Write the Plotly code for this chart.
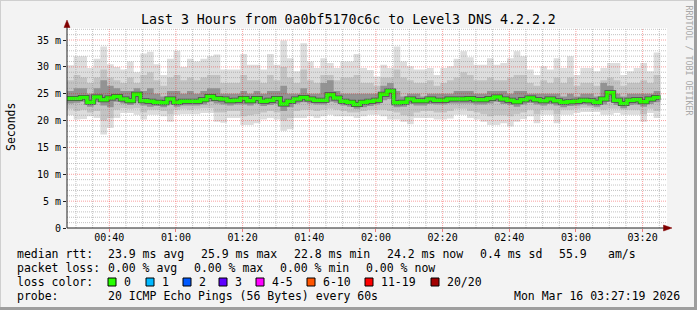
import plotly.graph_objects as go
import pandas as pd

# ---------------- data (milliseconds, one column every 2 minutes) ----------------
TITLE = "Last 3 Hours from 0a0bf5170c6c to Level3 DNS 4.2.2.2"
START = "2026-03-16 00:27:19"
END = "2026-03-16 03:27:19"
STEP_MIN = 2

median = [24.1, 24.1, 24.3, 23.4, 24.4, 23.9, 24.2, 24.5, 24.0, 23.7, 24.9, 23.7, 23.6, 23.4, 23.3, 24.0, 23.4, 23.6, 23.6, 23.6, 23.9, 24.5,
          24.1, 24.0, 23.7, 23.8, 24.1, 23.7, 24.1, 23.6, 23.8, 24.1, 23.1, 23.6, 24.0, 24.3, 24.0, 23.8, 23.8, 24.8, 24.2, 23.6, 23.4, 23.0, 23.4,
          23.6, 23.8, 24.9, 25.5, 23.3, 23.4, 24.0, 23.7, 23.7, 24.0, 23.8, 23.8, 24.0, 24.0, 24.0, 24.1, 23.9, 23.9, 24.1, 24.4, 24.0, 23.8,
          23.5, 23.9, 24.2, 23.9, 23.7, 24.0, 23.7, 23.4, 23.5, 23.6, 23.8, 23.7, 23.4, 24.0, 25.2, 23.8, 23.2, 23.8, 23.9, 23.5, 24.0, 24.3]

hi_outer = [30.3, 32.0, 32.0, 29.8, 31.5, 33.8, 30.5, 30.0, 29.5, 31.0, 29.0, 32.5, 32.8, 30.5, 28.5, 31.5, 33.0, 30.0, 31.5, 31.0, 31.5, 32.0,
            32.3, 29.5, 29.5, 29.5, 32.4, 30.4, 30.4, 29.5, 32.4, 30.4, 34.9, 31.6, 29.2, 34.4, 31.0, 29.8, 31.6, 30.7, 29.8, 31.0, 31.0, 32.4, 29.8,
            29.4, 28.2, 30.4, 29.8, 33.8, 31.0, 30.1, 29.5, 29.5, 29.8, 28.5, 29.8, 30.1, 31.5, 32.9, 31.8, 30.4, 30.4, 31.6, 30.4, 30.7, 31.6,
            32.9, 32.0, 29.5, 28.5, 30.1, 29.5, 31.6, 29.8, 32.0, 28.5, 29.8, 29.8, 29.2, 29.8, 30.7, 30.7, 28.5, 29.2, 29.8, 30.7, 29.2, 32.7]

hi_mid = [27.5, 28.5, 28.0, 27.0, 28.0, 29.5, 28.0, 27.5, 27.0, 28.0, 27.0, 28.5, 29.0, 27.5, 26.5, 28.0, 28.5, 27.5, 28.0, 27.5, 28.0, 28.5,
          28.5, 27.0, 27.0, 27.0, 28.5, 27.5, 27.5, 27.0, 28.5, 27.5, 30.0, 28.0, 27.0, 29.5, 27.5, 27.0, 28.5, 28.5, 27.5, 28.0, 28.0, 28.5, 27.0,
          27.0, 26.5, 28.0, 28.0, 29.5, 28.0, 27.5, 27.0, 27.0, 27.5, 26.5, 27.0, 27.5, 28.0, 29.0, 28.5, 27.5, 27.5, 28.0, 27.5, 27.5, 28.0,
          28.5, 28.5, 27.0, 26.5, 27.5, 27.0, 28.0, 27.0, 28.0, 26.5, 27.0, 27.0, 26.5, 27.5, 28.0, 27.5, 26.5, 27.0, 27.0, 27.5, 27.0, 28.5]

hi_inner = [25.5, 26.0, 26.0, 25.0, 26.0, 27.5, 26.5, 26.0, 25.5, 25.5, 26.0, 25.5, 26.0, 25.0, 24.5, 25.5, 25.5, 25.0, 25.5, 25.0, 25.5, 26.0,
            26.0, 25.0, 25.0, 25.0, 25.5, 25.0, 25.5, 25.0, 25.5, 25.5, 26.5, 25.0, 25.0, 26.0, 25.0, 25.0, 27.0, 27.5, 25.5, 25.0, 25.0, 25.0, 25.0,
            25.0, 25.0, 26.5, 27.0, 25.5, 24.5, 25.0, 25.0, 24.5, 25.0, 25.0, 25.0, 25.0, 25.5, 25.5, 25.5, 25.0, 25.0, 25.5, 25.5, 25.5, 25.0,
            25.5, 25.5, 25.0, 25.0, 25.0, 25.0, 25.0, 24.5, 25.0, 24.5, 25.0, 25.0, 24.5, 27.0, 26.5, 25.0, 24.5, 25.0, 25.0, 25.0, 25.0, 25.5]

lo_inner = [23.2, 23.3, 23.5, 22.6, 23.5, 22.8, 22.5, 23.5, 23.2, 22.9, 23.6, 22.8, 22.6, 22.7, 22.5, 23.0, 22.6, 22.8, 22.8, 22.8, 23.0, 23.5,
            23.2, 23.0, 22.8, 23.0, 23.0, 22.8, 23.2, 22.7, 22.9, 23.1, 21.8, 22.5, 23.2, 23.4, 23.2, 23.0, 23.0, 23.5, 23.3, 22.8, 22.6, 22.2, 22.5,
            22.7, 23.0, 23.8, 24.0, 22.5, 22.6, 23.1, 22.8, 22.8, 23.1, 23.0, 23.0, 23.2, 23.2, 23.2, 23.2, 23.0, 23.0, 23.2, 23.5, 23.1, 22.9,
            22.6, 23.0, 23.3, 23.0, 22.8, 23.1, 22.8, 22.5, 22.7, 22.8, 23.0, 22.8, 22.6, 23.0, 23.5, 22.9, 22.3, 22.9, 23.0, 22.6, 23.1, 23.4]

lo_mid = [22.2, 21.8, 22.0, 21.5, 21.8, 20.0, 20.5, 22.0, 22.3, 22.2, 22.3, 21.5, 22.0, 22.0, 21.8, 21.2, 22.0, 22.2, 22.0, 22.2, 22.3, 22.3,
          21.5, 21.5, 21.8, 21.8, 20.8, 21.0, 21.2, 21.5, 21.8, 21.5, 20.0, 20.5, 21.8, 22.0, 22.0, 21.8, 22.0, 22.2, 22.0, 21.8, 21.5, 21.5, 21.8,
          22.0, 22.0, 22.0, 21.8, 21.5, 21.0, 20.8, 21.5, 21.8, 21.8, 21.5, 21.5, 21.8, 22.2, 22.2, 21.8, 21.5, 21.2, 20.8, 21.0, 21.0, 20.8,
          21.2, 21.5, 22.0, 21.2, 22.0, 22.0, 21.2, 22.0, 22.0, 22.2, 22.4, 22.4, 22.2, 22.0, 22.2, 22.2, 22.0, 22.0, 22.0, 21.2, 22.2, 21.8]

lo_outer = [21.0, 20.2, 20.3, 20.8, 20.5, 17.4, 18.6, 20.5, 21.4, 21.4, 21.1, 20.2, 21.1, 21.1, 20.8, 19.8, 21.1, 21.2, 21.2, 21.2, 21.4, 21.4,
            19.8, 19.6, 20.5, 20.5, 19.2, 19.2, 19.5, 20.2, 20.5, 20.2, 18.1, 18.4, 20.5, 20.5, 20.8, 20.5, 20.8, 21.1, 20.8, 20.8, 20.8, 20.5, 20.8,
            21.1, 21.1, 20.8, 20.2, 20.2, 19.8, 19.3, 20.5, 20.5, 20.5, 20.2, 20.2, 20.4, 21.1, 21.1, 20.5, 20.2, 19.8, 19.2, 19.2, 19.5, 18.9,
            19.8, 20.3, 20.8, 19.5, 21.1, 21.1, 19.5, 21.1, 21.1, 21.4, 21.6, 21.6, 21.6, 21.1, 21.1, 21.4, 21.1, 21.1, 21.1, 19.8, 21.4, 20.5]

y_tickvals = [0, 5, 10, 15, 20, 25, 30, 35]
y_ticktext = ["0", "5 m", "10 m", "15 m", "20 m", "25 m", "30 m", "35 m"]
x_ticktext = ["00:40", "01:00", "01:20", "01:40", "02:00", "02:20", "02:40", "03:00", "03:20"]
Y_MAX = 37.24

rtt_line = [("median rtt:", 16), ("23.9 ms avg", 107), ("25.9 ms max", 200), ("22.8 ms min", 293),
            ("24.2 ms now", 386), ("0.4 ms sd", 479), ("55.9", 558), ("am/s", 607)]
loss_line = [("packet loss:", 16), ("0.00 % avg", 107), ("0.00 % max", 193), ("0.00 % min", 279), ("0.00 % now", 365)]
loss_colors = [("0", "#26ff00", 108), ("1", "#00b8ff", 146), ("2", "#0059ff", 183), ("3", "#5e00ff", 219),
               ("4-5", "#ff00ff", 256), ("6-10", "#ff5500", 307), ("11-19", "#ff0000", 365), ("20/20", "#a10000", 431)]
probe_text = "20 ICMP Echo Pings (56 Bytes) every 60s"
date_text = "Mon Mar 16 03:27:19 2026"

# ---------------- build ----------------
n = len(median)
t0 = pd.Timestamp(START)
edges = [t0 + pd.Timedelta(minutes=STEP_MIN * k) for k in range(n + 1)]

def ext(a):
    return list(a) + [a[-1]]

FONT = "DejaVu Sans Mono"
fig = go.Figure()

bands = [(lo_outer, hi_outer, "#dddddd"), (lo_mid, hi_mid, "#c3c3c3"), (lo_inner, hi_inner, "#939393")]
for lo, hi, col in bands:
    fig.add_trace(go.Scatter(x=edges, y=ext(lo), mode="lines", line=dict(width=0, shape="hv"),
                             hoverinfo="skip", showlegend=False))
    fig.add_trace(go.Scatter(x=edges, y=ext(hi), mode="lines", line=dict(width=0, shape="hv"),
                             fill="tonexty", fillcolor=col, hoverinfo="skip", showlegend=False))

fig.add_trace(go.Scatter(x=edges, y=ext(median), mode="lines", line=dict(width=5, shape="hv", color="#4a4a4a"),
                         hoverinfo="skip", showlegend=False))
fig.add_trace(go.Scatter(x=edges, y=ext(median), mode="lines", line=dict(width=3.5, shape="hv", color="#26ff00"),
                         showlegend=False))

# grid above the smoke (rrdtool style)
shapes = []
t_end = pd.Timestamp(END)
minor_t = pd.date_range("2026-03-16 00:30:00", t_end, freq="5min")
major_vals = [pd.Timestamp("2026-03-16 " + s) for s in x_ticktext]
for t in minor_t:
    if t in major_vals:
        continue
    shapes.append(dict(type="line", xref="x", yref="paper", x0=t, x1=t, y0=0, y1=1, layer="above",
                       line=dict(color="rgba(143,143,143,0.55)", width=1, dash="1px,1px")))
for t in major_vals:
    shapes.append(dict(type="line", xref="x", yref="paper", x0=t, x1=t, y0=0, y1=1, layer="above",
                       line=dict(color="rgba(240,0,0,0.38)", width=1, dash="1px,1px")))
for v in range(1, int(Y_MAX) + 1):
    if v in y_tickvals:
        continue
    shapes.append(dict(type="line", xref="paper", yref="y", x0=0, x1=1, y0=v, y1=v, layer="above",
                       line=dict(color="rgba(143,143,143,0.55)", width=1, dash="1px,1px")))
for v in y_tickvals[1:]:
    shapes.append(dict(type="line", xref="paper", yref="y", x0=0, x1=1, y0=v, y1=v, layer="above",
                       line=dict(color="rgba(240,0,0,0.38)", width=1, dash="1px,1px")))

def px(x):
    return (x - 67) / 600.0

def py(y):
    return (228 - y) / 200.0

# axes with arrows
shapes.append(dict(type="line", xref="paper", yref="paper", x0=0, x1=px(670), y0=0, y1=0, layer="above",
                   line=dict(color="#202020", width=1)))
shapes.append(dict(type="line", xref="paper", yref="paper", x0=0, x1=0, y0=0, y1=py(25), layer="above",
                   line=dict(color="#202020", width=1)))
shapes.append(dict(type="path", xref="paper", yref="paper", layer="above",
                   path=f"M {px(663.5)},{py(225)} L {px(672)},{py(228)} L {px(663.5)},{py(231)} Z",
                   fillcolor="#800000", line=dict(color="#800000", width=0.5)))
shapes.append(dict(type="path", xref="paper", yref="paper", layer="above",
                   path=f"M {px(64)},{py(27.5)} L {px(67)},{py(20)} L {px(70)},{py(27.5)} Z",
                   fillcolor="#800000", line=dict(color="#800000", width=0.5)))

# loss colour boxes
for lab, col, x in loss_colors:
    shapes.append(dict(type="rect", xref="paper", yref="paper", x0=px(x), x1=px(x + 8), y0=py(286), y1=py(278),
                       fillcolor=col, line=dict(color="#000000", width=1)))

# image 3D border
shapes += [
    dict(type="line", xref="paper", yref="paper", x0=px(0), x1=px(697), y0=py(0.5), y1=py(0.5), line=dict(color="#cfcfcf", width=1)),
    dict(type="line", xref="paper", yref="paper", x0=px(0.5), x1=px(0.5), y0=py(0), y1=py(310), line=dict(color="#cfcfcf", width=1)),
    dict(type="line", xref="paper", yref="paper", x0=px(0), x1=px(697), y0=py(308.5), y1=py(308.5), line=dict(color="#9e9e9e", width=3)),
    dict(type="line", xref="paper", yref="paper", x0=px(695.5), x1=px(695.5), y0=py(0), y1=py(310), line=dict(color="#9e9e9e", width=3)),
]

ann = []
def text(s, x, y, size=11.5, anchor="left", color="#000000", angle=0):
    ann.append(dict(text=s, xref="paper", yref="paper", x=px(x), y=py(y), xanchor=anchor, yanchor="middle",
                    showarrow=False, textangle=angle, font=dict(family=FONT, size=size, color=color)))

text(TITLE, 348, 19, size=13.25, anchor="center")
text("Seconds", 11, 127, size=11.5, anchor="center", angle=-90)
text("RRDTOOL / TOBI OETIKER", 688.5, 60, size=8.3, anchor="center", color="#a8a8a8", angle=90)
for s, x in rtt_line:
    text(s, x - 1, 254)
for s, x in loss_line:
    text(s, x - 1, 268)
text("loss color:", 15, 282)
for lab, col, x in loss_colors:
    text(lab, x + 14, 282)
text("probe:", 15, 296)
text(probe_text, 106, 296)
text(date_text, 682, 296, anchor="right")

fig.update_layout(
    width=697, height=310,
    margin=dict(l=67, r=30, t=28, b=82, pad=0),
    paper_bgcolor="#f3f3f3", plot_bgcolor="#ffffff",
    shapes=shapes, annotations=ann, showlegend=False,
    xaxis=dict(type="date", range=[t0, t_end], tickvals=major_vals, ticktext=x_ticktext,
               showgrid=False, zeroline=False, showline=False,
               ticks="outside", ticklen=3, tickcolor="rgba(240,0,0,0.5)", ticklabelstandoff=-3,
               tickfont=dict(family=FONT, size=10, color="#000000")),
    yaxis=dict(range=[0, Y_MAX], tickvals=y_tickvals, ticktext=y_ticktext,
               showgrid=False, zeroline=False, showline=False,
               ticks="outside", ticklen=3, tickcolor="#202020",
               tickfont=dict(family=FONT, size=10, color="#000000")),
)

fig.write_html("out.html")
